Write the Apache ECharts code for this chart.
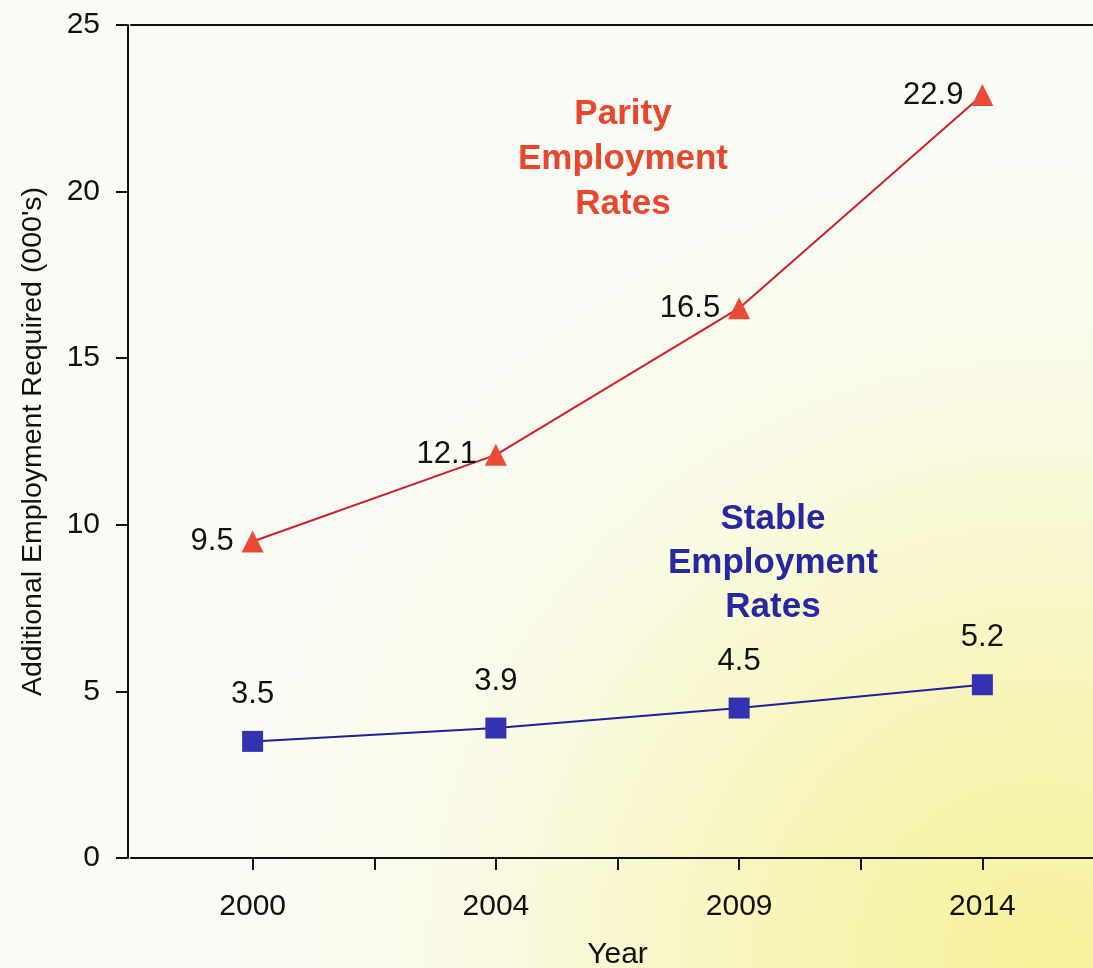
<!DOCTYPE html>
<html>
<head>
<meta charset="utf-8">
<script src="https://cdn.jsdelivr.net/npm/echarts@6/dist/echarts.min.js"></script>
<style>
  html, body { margin: 0; padding: 0; background: #fbfbf6; overflow: hidden; width: 1093px; height: 968px; }
  #chart { width: 1093px; height: 968px; position: absolute; left: 0; top: 0; }
</style>
</head>
<body>
<div id="chart"></div>
<script>
const years = ['2000', '2004', '2009', '2014'];
const parityRates = [9.5, 12.1, 16.5, 22.9];
const stableRates = [3.5, 3.9, 4.5, 5.2];
const yMin = 0, yMax = 25, yStep = 5;
const yAxisTitle = "Additional Employment Required (000's)";
const xAxisTitle = 'Year';
const parityNote = 'Parity\nEmployment\nRates';
const stableNote = 'Stable\nEmployment\nRates';

const FONT = '"Liberation Sans Narrow", "Arial Narrow", "Liberation Sans", Arial, sans-serif';
const BOLD = '"Liberation Sans", Arial, sans-serif';

const chart = echarts.init(document.getElementById('chart'), null, { renderer: 'canvas', width: 1093, height: 968 });

const option = {
  animation: false,
  backgroundColor: new echarts.graphic.RadialGradient(0.95, 1.0, 0.85, [
    { offset: 0, color: '#f6f19a' },
    { offset: 0.35, color: '#f8f5bc' },
    { offset: 0.7, color: '#fafae6' },
    { offset: 1, color: '#fbfbf6' }
  ]),
  grid: { left: 131, top: 25, width: 973, height: 833, containLabel: false, outerBoundsMode: 'none' },
  xAxis: [
    {
      type: 'category', data: years, position: 'bottom', boundaryGap: true,
      axisLine: { lineStyle: { color: '#111', width: 2 } },
      axisTick: { show: true, length: 12, interval: (i) => i !== 0, lineStyle: { color: '#111', width: 2 } },
      axisLabel: { margin: 34, color: '#111', fontSize: 30, fontFamily: FONT },
      name: xAxisTitle, nameLocation: 'middle', nameGap: 82,
      nameTextStyle: { color: '#111', fontSize: 30, fontFamily: FONT },
      splitLine: { show: false }
    },
    {
      type: 'category', data: years, position: 'bottom', boundaryGap: true,
      axisLine: { show: false },
      axisTick: { show: true, alignWithLabel: true, length: 12, lineStyle: { color: '#111', width: 2 } },
      axisLabel: { show: false },
      splitLine: { show: false }
    },
    {
      type: 'category', data: years, position: 'top', boundaryGap: true,
      axisLine: { show: true, lineStyle: { color: '#111', width: 2 } },
      axisTick: { show: false },
      axisLabel: { show: false },
      splitLine: { show: false }
    }
  ],
  yAxis: {
    type: 'value', min: yMin, max: yMax, interval: yStep, offset: 3,
    axisLine: { show: true, lineStyle: { color: '#111', width: 2 } },
    axisTick: { show: true, length: 12, lineStyle: { color: '#111', width: 2 } },
    axisLabel: { margin: 28, color: '#111', fontSize: 30, fontFamily: FONT },
    splitLine: { show: false },
    name: yAxisTitle, nameLocation: 'middle', nameGap: 80,
    nameTextStyle: { color: '#111', fontSize: 28.5, fontFamily: FONT }
  },
  series: [
    {
      name: 'Parity', type: 'line', data: parityRates, xAxisIndex: 0,
      symbol: 'triangle', symbolSize: 22,
      lineStyle: { color: '#cf1f2e', width: 2 },
      itemStyle: { color: '#ec4a38' },
      label: { show: true, position: 'left', distance: 8, color: '#111', fontSize: 31, fontFamily: FONT },
      z: 3
    },
    {
      name: 'Stable', type: 'line', data: stableRates, xAxisIndex: 0,
      symbol: 'rect', symbolSize: 21,
      lineStyle: { color: '#1f1f9e', width: 2 },
      itemStyle: { color: '#3333b2' },
      label: { show: true, position: 'top', distance: 21, color: '#111', fontSize: 31, fontFamily: FONT },
      z: 3
    }
  ],
  graphic: [
    {
      type: 'text', x: 623, y: 92, silent: true,
      style: { text: parityNote, fill: '#e8472e', font: 'bold 35px ' + BOLD, align: 'center', verticalAlign: 'top', lineHeight: 45 }
    },
    {
      type: 'text', x: 773, y: 497, silent: true,
      style: { text: stableNote, fill: '#2727a2', font: 'bold 35px ' + BOLD, align: 'center', verticalAlign: 'top', lineHeight: 44 }
    }
  ]
};

chart.setOption(option);
</script>
</body>
</html>
